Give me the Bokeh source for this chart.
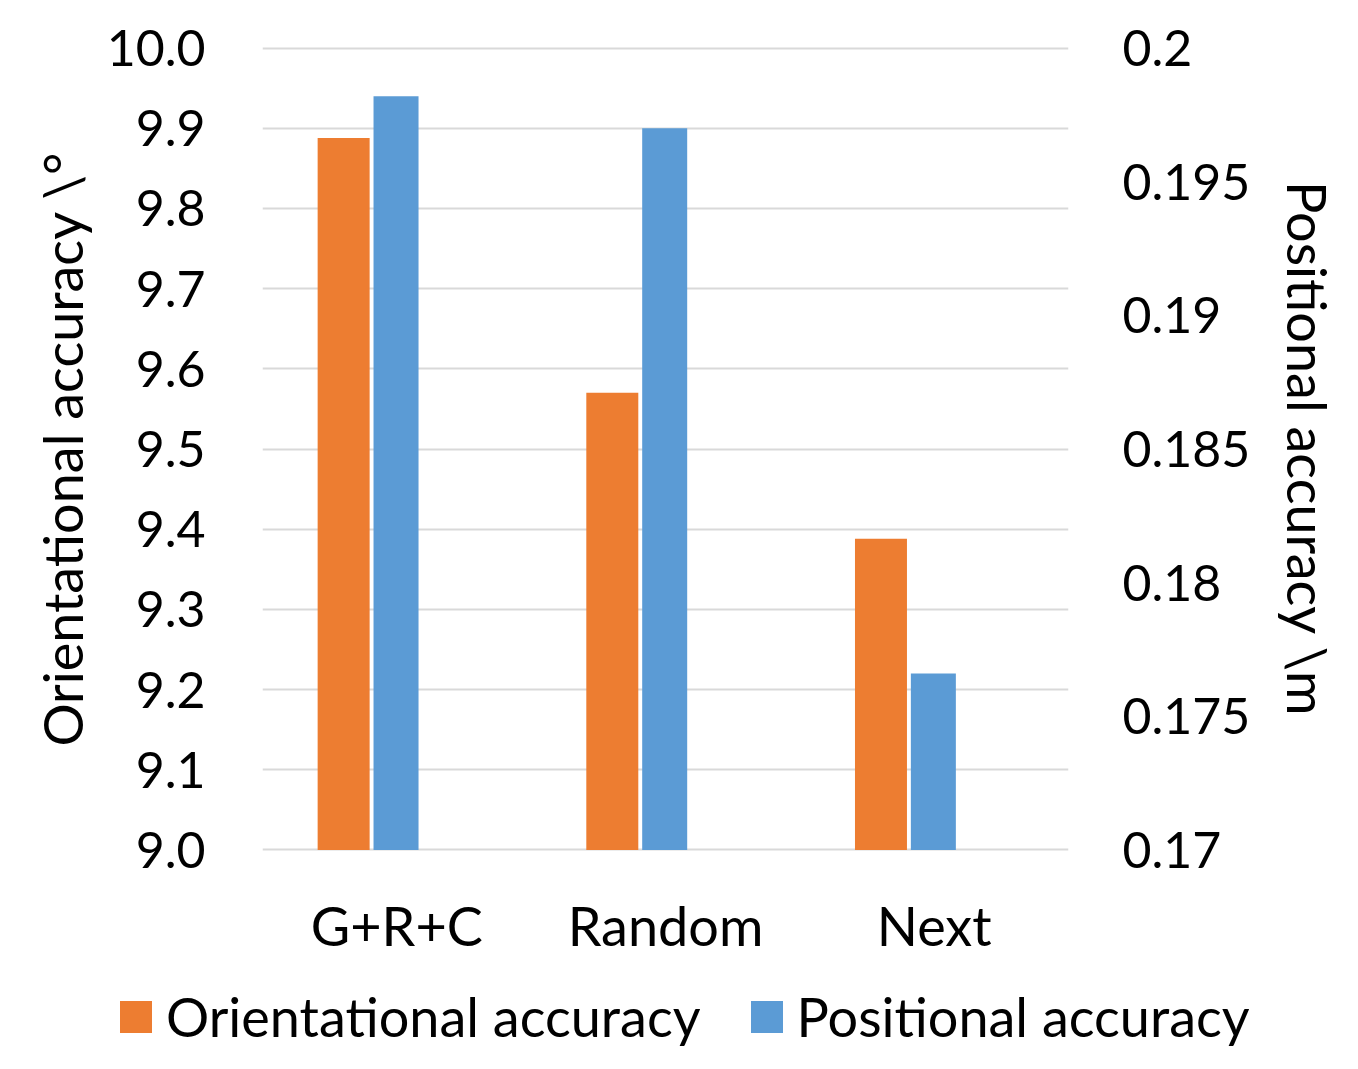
from bokeh.plotting import figure
from bokeh.models import Range1d, LinearAxis, FixedTicker, NumeralTickFormatter, Div
from bokeh.layouts import column
from bokeh.transform import dodge
from bokeh.embed import file_html
from bokeh.resources import INLINE

categories = ["G+R+C", "Random", "Next"]
orientational = [9.888, 9.570, 9.388]
positional = [0.1982, 0.1970, 0.1766]
series_names = ["Orientational accuracy", "Positional accuracy"]
left_ticks = [9.0, 9.1, 9.2, 9.3, 9.4, 9.5, 9.6, 9.7, 9.8, 9.9, 10.0]
right_ticks = [0.17, 0.175, 0.18, 0.185, 0.19, 0.195, 0.2]

FONT = "Lato"
FS_TICK = "50px"
FS_TEXT = "54px"
ORANGE = "#ED7D31"
BLUE = "#5B9BD5"
colors = [ORANGE, BLUE]

# small padding so the edge gridlines are not clipped
PAD = 0.002
L0, L1 = left_ticks[0], left_ticks[-1]
R0, R1 = right_ticks[0], right_ticks[-1]
lpad = (L1 - L0) * PAD
rpad = (R1 - R0) * PAD

W, H = 1348, 965
p = figure(x_range=categories, y_range=Range1d(L0 - lpad, L1 + lpad), width=W, height=H,
           output_backend="svg", toolbar_location=None,
           min_border_left=262, min_border_right=280, min_border_top=46, min_border_bottom=114)
p.extra_y_ranges = {"right": Range1d(R0 - rpad, R1 + rpad)}

src = dict(cat=categories, o=orientational, pos=positional)
p.vbar(x=dodge("cat", -0.198, range=p.x_range), top="o", bottom=L0, width=0.1935,
       source=src, color=ORANGE, line_color=None)
p.vbar(x=dodge("cat", -0.003, range=p.x_range), top="pos", bottom=R0, width=0.1675,
       source=src, color=BLUE, line_color=None, y_range_name="right")

p.outline_line_color = None
p.xgrid.grid_line_color = None
p.ygrid.grid_line_color = "#D9D9D9"
p.ygrid.grid_line_width = 2
p.ygrid.ticker = FixedTicker(ticks=left_ticks)

ya = p.yaxis[0]
ya.ticker = FixedTicker(ticks=left_ticks)
ya.formatter = NumeralTickFormatter(format="0.0")
ya.axis_label = "Orientational accuracy \\°"

ra = LinearAxis(y_range_name="right", ticker=FixedTicker(ticks=right_ticks),
                formatter=NumeralTickFormatter(format="0.[000]"),
                axis_label="Positional accuracy \\m")
p.add_layout(ra, "right")

xa = p.xaxis[0]

for ax in (ya, ra, xa):
    ax.axis_line_color = None
    ax.major_tick_line_color = None
    ax.minor_tick_line_color = None
    ax.major_tick_out = 0
    ax.major_tick_in = 0
    ax.minor_tick_out = 0
    ax.major_label_text_font = FONT
    ax.major_label_text_font_size = FS_TICK
    ax.major_label_text_color = "#000000"
    ax.axis_label_text_font = FONT
    ax.axis_label_text_font_size = FS_TEXT
    ax.axis_label_text_font_style = "normal"
    ax.axis_label_text_color = "#000000"

xa.major_label_text_font_size = FS_TEXT
ya.major_label_standoff = 57
ya.axis_label_standoff = 9
ra.major_label_standoff = 54
ra.axis_label_standoff = 22
xa.major_label_standoff = 41

# legend strip (HTML) below the chart
items_html = ""
for i, (name, col) in enumerate(zip(series_names, colors)):
    ml = "0px" if i == 0 else "50px"
    items_html += (
        f'<span style="display:inline-block;width:32px;height:32px;background:{col};'
        f'margin-left:{ml};margin-right:14px;flex:none;"></span>'
        f'<span style="white-space:nowrap;">{name}</span>'
    )
legend_div = Div(
    text=(f'<div style="display:flex;align-items:center;font-family:{FONT};font-size:{FS_TEXT};'
          f'line-height:1;color:#000000;padding-left:115px;padding-top:20px;">{items_html}</div>'),
    width=W, height=100)

layout = column(p, legend_div, spacing=0)
open("out.html", "w").write(file_html(layout, INLINE))
